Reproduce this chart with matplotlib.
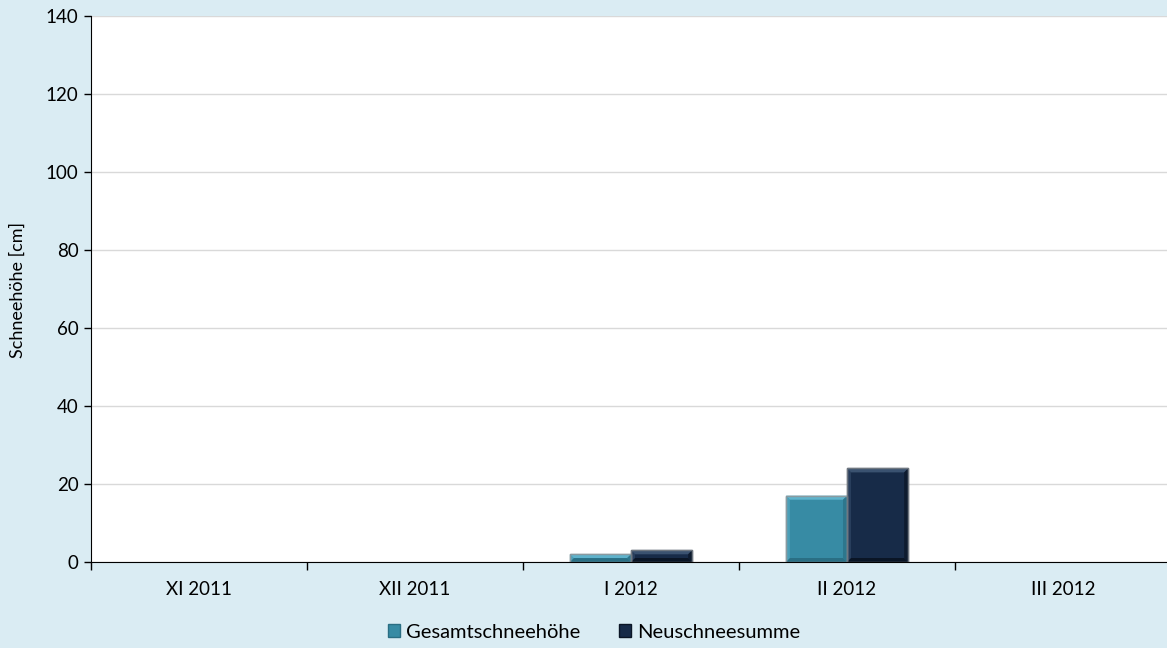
import matplotlib
matplotlib.use("Agg")
import numpy as np
from matplotlib import pyplot as plt
from matplotlib.patches import Patch, Polygon

plt.rcParams['font.family'] = ['Lato', 'DejaVu Sans']

months = ["XI 2011", "XII 2011", "I 2012", "II 2012", "III 2012"]
gesamt = [0, 0, 2, 17, 0]
neuschnee = [0, 0, 3, 24, 0]
y_ticks = [0, 20, 40, 60, 80, 100, 120, 140]

bg = "#daecf3"
c_gesamt = "#378ba4"
c_neu = "#172b48"


def bevel_bars(ax, xs, heights, width, color, light, dark, edge):
    # bar with a small bevelled frame: lighter top, darker bottom
    bx = 4 / 216.0      # bevel width in data units (x)
    by = 4 / 3.9        # bevel height in data units (y)
    for xc, h in zip(xs, heights):
        if h <= 0:
            continue
        x0, x1 = xc - width / 2, xc + width / 2
        ax.add_patch(plt.Rectangle((x0, 0), width, h, facecolor=color,
                                   edgecolor=edge, linewidth=1.0, zorder=3))
        b = min(by, h / 2)
        bxx = bx * (b / by)
        ax.add_patch(Polygon([(x0, h), (x1, h), (x1 - bxx, h - b), (x0 + bxx, h - b)],
                             closed=True, facecolor=light, edgecolor="none", zorder=4))
        ax.add_patch(Polygon([(x0, 0), (x1, 0), (x1 - bxx, b), (x0 + bxx, b)],
                             closed=True, facecolor=dark, edgecolor="none", zorder=4))
        ax.add_patch(Polygon([(x1, 0), (x1, h), (x1 - bxx, h - b), (x1 - bxx, b)],
                             closed=True, facecolor=dark, edgecolor="none", alpha=0.7, zorder=4))
        ax.add_patch(Polygon([(x0, 0), (x0, h), (x0 + bxx, h - b), (x0 + bxx, b)],
                             closed=True, facecolor=light, edgecolor="none", alpha=0.5, zorder=4))
        ax.add_patch(plt.Rectangle((x0, 0), width, h, facecolor="none",
                                   edgecolor=edge, linewidth=1.0, zorder=5))


fig = plt.figure(figsize=(11.67, 6.48), dpi=100, facecolor=bg)
ax = fig.add_axes([91 / 1167, 1 - 562 / 648, 1080 / 1167, 546 / 648])
ax.set_facecolor("white")

x = np.arange(len(months))
w = 0.283
bevel_bars(ax, x - w / 2, gesamt, w, c_gesamt, "#5fb3cc", "#2a6f84", "#8a9aa0")
bevel_bars(ax, x + w / 2, neuschnee, w, c_neu, "#3a5270", "#0a1525", "#6f7780")

ax.set_xlim(-0.5, len(months) - 0.5)
ax.set_ylim(0, 140)
ax.set_yticks(y_ticks)
ax.yaxis.grid(True, color="#d9d9d9", linewidth=1.0, zorder=0)
ax.set_axisbelow(True)

# category labels centred, tick marks on the boundaries
ax.set_xticks(x)
ax.set_xticklabels(months, fontsize=13.5)
ax.tick_params(axis="x", length=0, pad=14)
ax.set_xticks(np.arange(-0.5, len(months), 1.0), minor=True)
ax.tick_params(axis="x", which="minor", length=6, width=1, direction="out", color="black")
ax.tick_params(axis="y", length=5, width=1, direction="out", labelsize=13.5, pad=4)

for s in ["top", "right"]:
    ax.spines[s].set_visible(False)
ax.spines["left"].set_color("black")
ax.spines["bottom"].set_color("black")
ax.spines["bottom"].set_zorder(6)

fig.text(18 / 1167, 1 - 290 / 648, "Schneehöhe [cm]", rotation=90, ha="center", va="center", fontsize=13)

handles = [Patch(facecolor=c_gesamt, edgecolor="#2a6e83"), Patch(facecolor=c_neu, edgecolor="#0b1626")]
fig.legend(handles, ["Gesamtschneehöhe", "Neuschneesumme"], loc="center",
           bbox_to_anchor=(594 / 1167, 1 - 632 / 648), ncol=2, frameon=False,
           fontsize=14.5, handlelength=0.6, handleheight=0.6, handletextpad=0.3, columnspacing=1.9)

fig.savefig("out.png", dpi=100, facecolor=bg)
